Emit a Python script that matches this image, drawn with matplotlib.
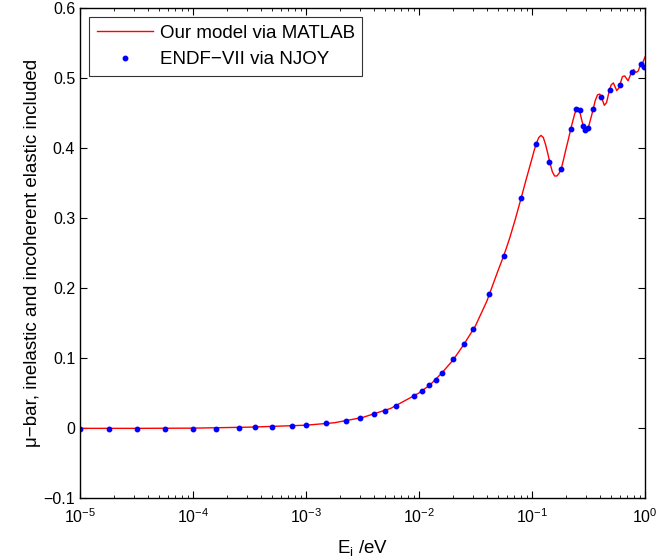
import numpy as np
import matplotlib
matplotlib.use('Agg')
from matplotlib import pyplot as plt

plt.rcParams['font.family'] = ['Liberation Sans', 'DejaVu Sans']
plt.rcParams['mathtext.default'] = 'regular'

# model curve
model_E = [1e-5, 3.16e-5, 1e-4, 3.16e-4, 1e-3, 1.78e-3, 3.16e-3, 5.62e-3, 1e-2,
           1.26e-2, 1.58e-2, 2.0e-2, 2.51e-2, 3.16e-2, 3.98e-2, 5.01e-2, 5.62e-2,
           6.31e-2, 7.08e-2, 7.94e-2, 8.91e-2, 0.100, 0.1047, 0.1096, 0.1148,
           0.1202, 0.1259, 0.1318, 0.1380, 0.1445, 0.1514, 0.1585, 0.1660, 0.1738,
           0.1820, 0.1905, 0.1995, 0.2089, 0.2188, 0.2291, 0.2399, 0.2512, 0.2570,
           0.2630, 0.2754, 0.2884, 0.3020, 0.3162, 0.3388, 0.3631, 0.3802, 0.3981,
           0.4169, 0.4365, 0.4571, 0.4786, 0.5012, 0.5248, 0.5623, 0.5888, 0.6310,
           0.6607, 0.7079, 0.7413, 0.7943, 0.8318, 0.8710, 0.9120, 0.9550, 1.0]
model_mu = [-0.0005, -0.0005, -0.0002, 0.0012, 0.004, 0.0075, 0.015, 0.028, 0.050,
            0.062, 0.078, 0.097, 0.120, 0.146, 0.181, 0.225, 0.246,
            0.270, 0.297, 0.326, 0.356, 0.385, 0.397, 0.407, 0.415,
            0.418, 0.415, 0.405, 0.392, 0.378, 0.366, 0.360, 0.360, 0.364,
            0.371, 0.384, 0.398, 0.411, 0.425, 0.438, 0.450, 0.456, 0.457,
            0.454, 0.440, 0.428, 0.425, 0.430, 0.448, 0.468, 0.476, 0.477,
            0.470, 0.461, 0.465, 0.479, 0.490, 0.493, 0.482, 0.486, 0.502,
            0.503, 0.496, 0.504, 0.512, 0.508, 0.510, 0.519, 0.522, 0.530]

# ENDF-VII points
endf_E = [1.01e-5, 1.79e-5, 3.19e-5, 5.65e-5, 1.0e-4, 1.6e-4, 2.54e-4, 3.52e-4,
          5.04e-4, 7.46e-4, 1.01e-3, 1.49e-3, 2.26e-3, 2.99e-3, 4.02e-3, 4.97e-3,
          6.25e-3, 8.97e-3, 1.06e-2, 1.23e-2, 1.41e-2, 1.60e-2, 2.01e-2, 2.49e-2,
          3.03e-2, 4.19e-2, 5.62e-2, 8.04e-2, 0.109, 0.142, 0.179, 0.221, 0.245,
          0.264, 0.284, 0.294, 0.313, 0.348, 0.406, 0.490, 0.604, 0.762, 0.923, 0.986]
endf_mu = [-0.001, -0.001, -0.001, -0.001, -0.001, -0.0008, 0.0, 0.001,
           0.0015, 0.003, 0.004, 0.0065, 0.010, 0.014, 0.0195, 0.024,
           0.031, 0.045, 0.053, 0.061, 0.069, 0.079, 0.098, 0.120,
           0.141, 0.191, 0.246, 0.329, 0.406, 0.380, 0.370, 0.427, 0.455,
           0.454, 0.432, 0.426, 0.428, 0.456, 0.473, 0.483, 0.490, 0.509, 0.520, 0.516]

yticks = [-0.1, 0, 0.1, 0.2, 0.3, 0.4, 0.5, 0.6]
ytick_labels = ['\u22120.1', '0', '0.1', '0.2', '0.3', '0.4', '0.5', '0.6']

fig = plt.figure(figsize=(6.59, 5.60), dpi=100)
ax = fig.add_axes([80/659, 1-498/560, 565/659, 490/560])

ax.plot(model_E, model_mu, color='red', lw=1.0, label='Our model via MATLAB')
ax.plot(endf_E, endf_mu, ls='none', marker='o', ms=3.2, color='blue',
        mec='blue', label='ENDF\u2212VII via NJOY')

ax.set_xscale('log')
ax.set_xlim(1e-5, 1)
ax.set_ylim(-0.1, 0.6)
ax.set_yticks(yticks)
ax.set_yticklabels(ytick_labels)

ax.tick_params(which='both', direction='in', top=True, right=True, labelsize=11.5)
ax.tick_params(which='major', length=5, width=0.8)
ax.tick_params(axis='x', which='major', pad=7)
ax.tick_params(which='minor', length=2.5, width=0.6)
for s in ax.spines.values():
    s.set_linewidth(1.0)

ax.set_xlabel('E$_{i}$ /eV', fontsize=13.5, labelpad=8)
ax.set_ylabel('\u03bc\u2212bar, inelastic and incoherent elastic included', fontsize=13.5, labelpad=2)

leg = ax.legend(loc='upper left', fontsize=13.5, frameon=True, fancybox=False,
                edgecolor='black', borderaxespad=0.5, handlelength=3.0,
                handletextpad=0.35, borderpad=0.4, labelspacing=0.5)
leg.get_frame().set_linewidth(0.8)

fig.savefig('out.png', dpi=100)
